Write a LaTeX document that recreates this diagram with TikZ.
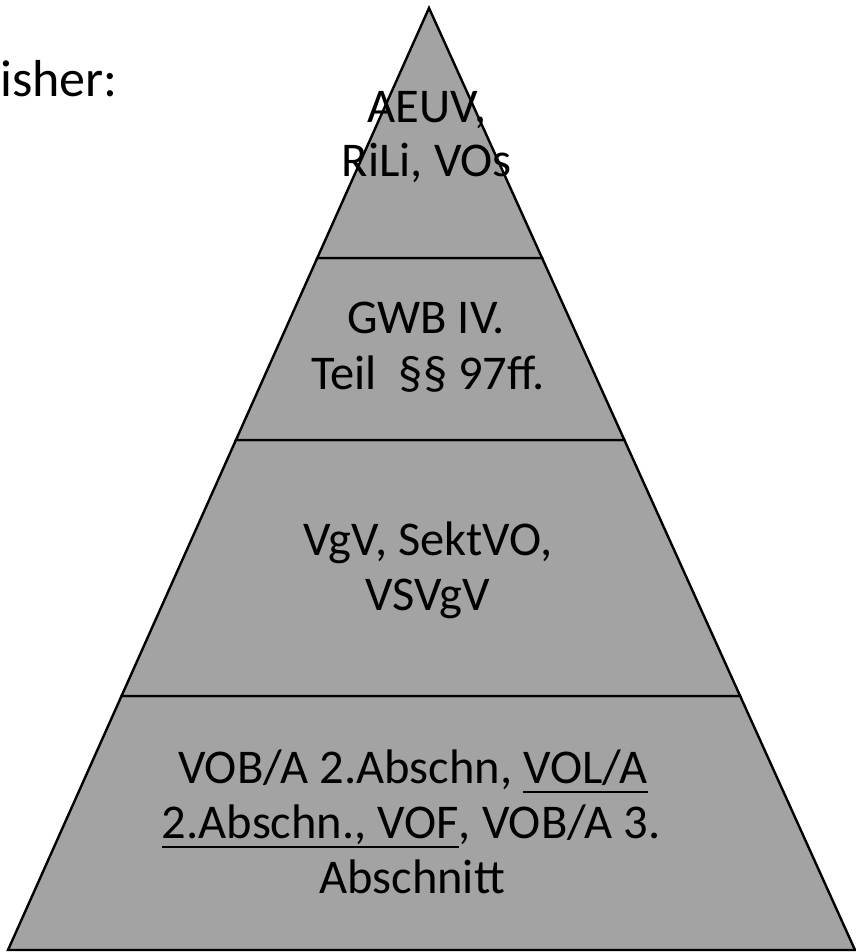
\documentclass[tikz,border=0pt]{standalone}
\usepackage{fontspec}
\setmainfont{Carlito}
\usetikzlibrary{calc}
\definecolor{bandgray}{RGB}{163,163,163}
\newcommand{\myul}[1]{\setbox0\hbox{#1}\rlap{\rule[-10pt]{\wd0}{2.4pt}}\box0}
\begin{document}
\begin{tikzpicture}[x=1pt,y=-1pt,
  band/.style={fill=bandgray,draw=black,line width=2.4pt,line join=miter},
  lbl/.style={anchor=base,inner sep=0pt,font=\fontsize{48.5}{58}\selectfont}]
\useasboundingbox (0,0) rectangle (855,952);
\coordinate (apex) at (429,8);
\coordinate (bl) at (8,950);
\coordinate (br) at (855,950);
\coordinate (l1) at ($(apex)!0.2654!(bl)$);
\coordinate (r1) at ($(apex)!0.2654!(br)$);
\coordinate (l2) at ($(apex)!0.4586!(bl)$);
\coordinate (r2) at ($(apex)!0.4586!(br)$);
\coordinate (l3) at ($(apex)!0.7304!(bl)$);
\coordinate (r3) at ($(apex)!0.7304!(br)$);
\draw[band] (bl) -- (br) -- (r3) -- (l3) -- cycle;
\draw[band] (l3) -- (r3) -- (r2) -- (l2) -- cycle;
\draw[band] (l2) -- (r2) -- (r1) -- (l1) -- cycle;
\draw[band] (l1) -- (r1) -- (apex) -- cycle;
\node[lbl] (a1) at (427,123) {AEUV,};
\node[lbl] (a2) at (427,177) {RiLi, VOs};
\node[lbl] (b1) at (426,333) {GWB IV.};
\node[lbl] (b2) at (428,389) {Teil \ §§ 97ff.};
\node[lbl] (c1) at (428,555) {VgV, SektVO,};
\node[lbl] (c2) at (428,610) {VSVgV};
\node[lbl] (d1) at (413,783) {VOB/A 2.Abschn, \myul{VOL/A}};
\node[lbl] (d2) at (411,838) {\myul{2.Abschn., VOF}, VOB/A 3.};
\node[lbl] (d3) at (412,893) {Abschnitt};
\node[anchor=base west,inner sep=0pt,font=\fontsize{52}{62}\selectfont] (h) at (0,97) {isher:};
\end{tikzpicture}
\end{document}
